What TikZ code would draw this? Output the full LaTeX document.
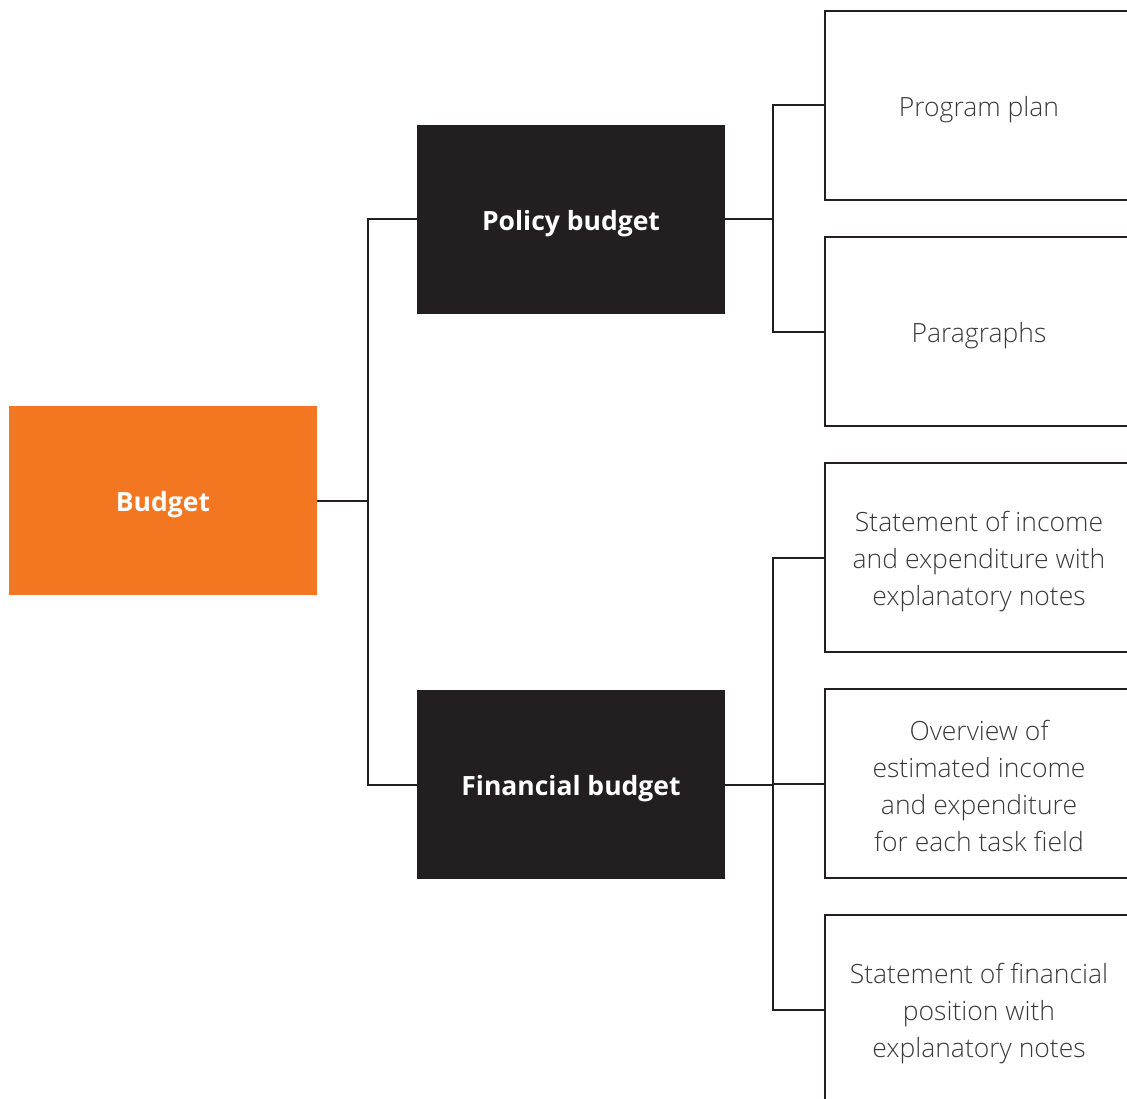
\documentclass[tikz,border=0pt]{standalone}
\usepackage{fontspec}
\setmainfont{Open Sans}
\newfontfamily\lightfont{Open Sans Light}
\definecolor{orangebox}{HTML}{F37721}
\definecolor{darkbox}{HTML}{231F20}
\definecolor{lighttext}{HTML}{3A3A3A}
\begin{document}
\begin{tikzpicture}[x=1pt,y=-1pt,
  box/.style={minimum width=308pt,minimum height=189pt,inner sep=0pt,outer sep=0pt},
  rootbox/.style={box,fill=orangebox},
  midbox/.style={box,fill=darkbox},
  leafbox/.style={box,draw=darkbox,line width=2pt},
  boldtext/.style={text=white,align=center,inner sep=0pt,yshift=-4pt,font=\fontsize{26.5}{32}\selectfont\bfseries},
  lighttext/.style={text=lighttext,align=center,inner sep=0pt,yshift=-4pt,font=\lightfont\fontsize{26.5}{37}\selectfont},
  link/.style={draw=darkbox,line width=2pt}]
\useasboundingbox (0,0) rectangle (1127,1099);
\clip (0,0) rectangle (1127,1099);
\node[rootbox] (budget) at (163,500.5) {};
\node[midbox] (policy) at (571,219.5) {};
\node[midbox] (financial) at (571,784.5) {};
\node[leafbox] (pp) at (979,105.5) {};
\node[leafbox] (para) at (979,331.5) {};
\node[leafbox] (sie) at (979,557.5) {};
\node[leafbox] (ov) at (979,783.5) {};
\node[leafbox] (sfp) at (979,1009.5) {};
\node[boldtext] (budgett) at (budget) {Budget};
\node[boldtext] (policyt) at (policy) {Policy budget};
\node[boldtext] (financialt) at (financial) {Financial budget};
\node[lighttext] (ppt) at (pp) {Program plan};
\node[lighttext] (parat) at (para) {Paragraphs};
\node[lighttext] (siet) at (sie) {Statement of income\\and expenditure with\\explanatory notes};
\node[lighttext,yshift=2pt] (ovt) at (ov) {Overview of\\estimated income\\and expenditure\\for each task field};
\node[lighttext] (sfpt) at (sfp) {Statement of financial\\position with\\explanatory notes};
\coordinate (j1) at (368,500.5);
\coordinate (j2) at (773,219.5);
\coordinate (j3) at (773,784.5);
\draw[link] (budget.east) -- (j1);
\draw[link] (j1) |- (policy.west);
\draw[link] (j1) |- (financial.west);
\draw[link] (policy.east) -- (j2);
\draw[link] (j2) |- (pp.west);
\draw[link] (j2) |- (para.west);
\draw[link] (financial.east) -- (j3);
\draw[link] (j3) |- (sie.west);
\draw[link] (j3) |- (ov.west);
\draw[link] (j3) |- (sfp.west);
\end{tikzpicture}
\end{document}
